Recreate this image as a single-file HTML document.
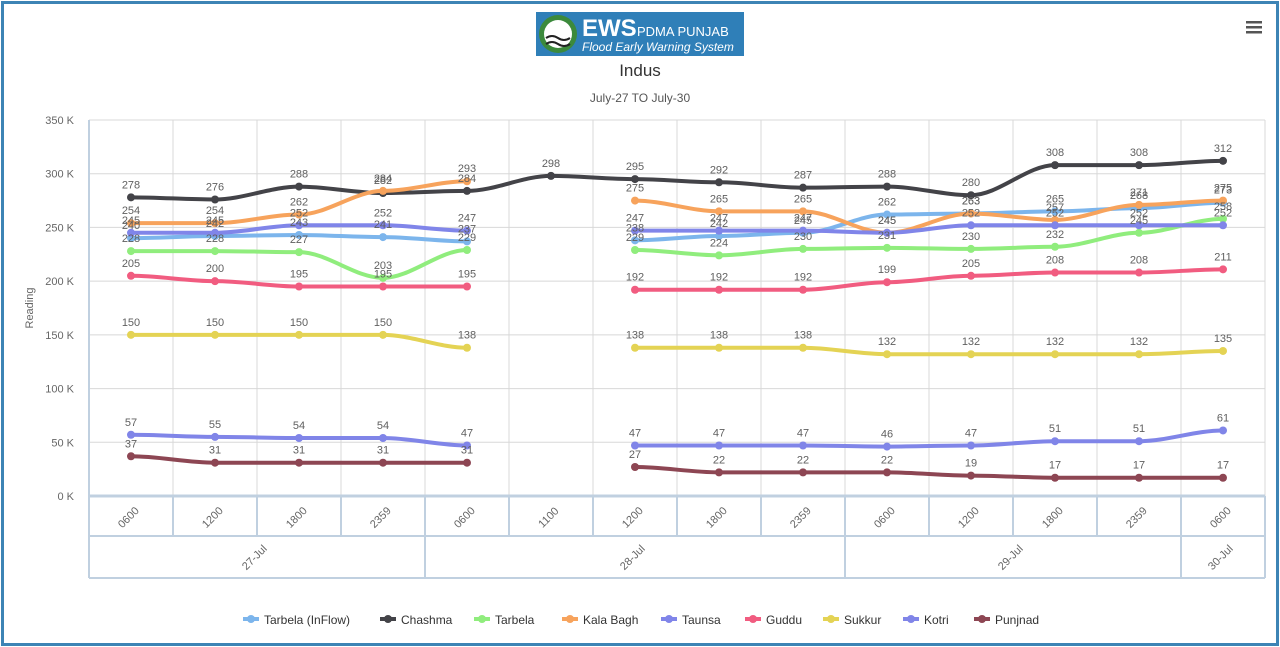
<!DOCTYPE html>
<html><head><meta charset="utf-8"><style>
html,body{margin:0;padding:0;background:#fff;}
body{width:1280px;height:647px;overflow:hidden;font-family:"Liberation Sans","DejaVu Sans",sans-serif;}
#frame{position:absolute;left:1px;top:1px;width:1272px;height:639px;border:3px solid #3d84b5;}
</style></head><body>
<div id="frame"></div>
<svg id="s" width="1280" height="647" style="position:absolute;left:0;top:0" xmlns="http://www.w3.org/2000/svg"></svg>
<script>
var s=document.getElementById('s');var h='';
function Y(v){return 496-v*376/350;}
function X(i){return 131+84*i;}
h+='<rect x="536" y="12" width="208" height="44" fill="#2f7fb8"/>';
h+='<circle cx="558" cy="34" r="19" fill="#3c8a3c"/><circle cx="558" cy="34" r="14" fill="#fff"/><path d="M546,38 q6,-4 12,0 q6,4 12,0 M546,44 q6,-4 12,0 q6,4 12,0" stroke="#222" stroke-width="2" fill="none"/>';
h+='<text x="582" y="36" font-size="24" font-weight="bold" fill="#fff">EWS</text><text x="637" y="36" font-size="13" fill="#fff">PDMA PUNJAB</text>';
h+='<text x="582" y="51" font-size="12" font-style="italic" fill="#fff">Flood Early Warning System</text>';
h+='<text x="640" y="76" font-size="17" text-anchor="middle" fill="#333">Indus</text>';
h+='<text x="640" y="102" font-size="12" text-anchor="middle" fill="#555">July-27 TO July-30</text>';
for(var k=0;k<3;k++)h+='<rect x="1246" y="'+(21+k*5)+'" width="16" height="2.5" fill="#555"/>';
for(var v=0;v<=350;v+=50){h+='<line x1="89" x2="1265" y1="'+Y(v)+'" y2="'+Y(v)+'" stroke="#d8d8d8"/>';
h+='<text x="74" y="'+(Y(v)+4)+'" font-size="11" fill="#666" text-anchor="end">'+v+' K</text>';}
for(var i=0;i<=14;i++){var x=89+84*i;h+='<line x1="'+x+'" x2="'+x+'" y1="120" y2="496" stroke="#d8d8d8"/>';}
h+='<line x1="89" x2="89" y1="120" y2="578" stroke="#c0d0e0" stroke-width="2"/>';
h+='<text x="33" y="308" font-size="11" fill="#666" text-anchor="middle" transform="rotate(-90 33 308)">Reading</text>';
h+='<line x1="89" x2="1265" y1="496" y2="496" stroke="#c0d0e0" stroke-width="3"/>';
h+='<line x1="89" x2="1265" y1="536" y2="536" stroke="#c0d0e0" stroke-width="2"/>';
h+='<line x1="89" x2="1265" y1="578" y2="578" stroke="#c0d0e0" stroke-width="2"/>';
var cats=['0600','1200','1800','2359','0600','1100','1200','1800','2359','0600','1200','1800','2359','0600'];
for(var i=0;i<=14;i++){var x=89+84*i;h+='<line x1="'+x+'" x2="'+x+'" y1="496" y2="536" stroke="#c0d0e0" stroke-width="2"/>';}
cats.forEach(function(c,i){var x=X(i),y=520;h+='<text x="'+x+'" y="'+y+'" font-size="11" fill="#666" text-anchor="middle" transform="rotate(-45 '+x+' '+y+')">'+c+'</text>';});
[[89,425,'27-Jul'],[425,845,'28-Jul'],[845,1181,'29-Jul'],[1181,1265,'30-Jul']].forEach(function(d){
h+='<line x1="'+d[1]+'" x2="'+d[1]+'" y1="536" y2="578" stroke="#c0d0e0" stroke-width="2"/>';
var x=(d[0]+d[1])/2,y=560;h+='<text x="'+x+'" y="'+y+'" font-size="11" fill="#666" text-anchor="middle" transform="rotate(-45 '+x+' '+y+')">'+d[2]+'</text>';});
var n=null;
var S=[
['Tarbela (InFlow)','#7cb5ec',[240,242,243,241,237,n,238,242,245,262,263,265,268,273]],
['Chashma','#434348',[278,276,288,282,284,298,295,292,287,288,280,308,308,312]],
['Tarbela','#90ed7d',[228,228,227,203,229,n,229,224,230,231,230,232,245,258]],
['Kala Bagh','#f7a35c',[254,254,262,284,293,n,275,265,265,245,263,257,271,275]],
['Taunsa','#8085e9',[245,245,252,252,247,n,247,247,247,245,252,252,252,252]],
['Guddu','#f15c80',[205,200,195,195,195,n,192,192,192,199,205,208,208,211]],
['Sukkur','#e4d354',[150,150,150,150,138,n,138,138,138,132,132,132,132,135]],
['Kotri','#8085e8',[57,55,54,54,47,n,47,47,47,46,47,51,51,61]],
['Punjnad','#8d4653',[37,31,31,31,31,n,27,22,22,22,19,17,17,17]]];
var labels='';
S.forEach(function(sr){var d=sr[2],segs=[],cur=[];
d.forEach(function(v,i){if(v===null){if(cur.length)segs.push(cur);cur=[];}else cur.push([X(i),Y(v)]);});
if(cur.length)segs.push(cur);
segs.forEach(function(p){var path='M'+p[0][0]+','+p[0][1];
for(var i=1;i<p.length;i++){var a=p[i-1],b=p[i],c1=a[0]+28,c2=b[0]-28;path+=' C'+c1+','+a[1]+' '+c2+','+b[1]+' '+b[0]+','+b[1];}
h+='<path d="'+path+'" stroke="'+sr[1]+'" stroke-width="4" fill="none" stroke-linecap="round"/>';
p.forEach(function(q){h+='<circle cx="'+q[0]+'" cy="'+q[1]+'" r="4" fill="'+sr[1]+'"/>';});});
d.forEach(function(v,i){if(v!==null)labels+='<text x="'+X(i)+'" y="'+(Y(v)-9)+'" font-size="11" fill="#606060" text-anchor="middle">'+v+'</text>';});});
h+=labels;
var lx=[243,380,474,562,661,745,823,903,974];
S.forEach(function(sr,i){h+='<rect x="'+lx[i]+'" y="617" width="16" height="4" fill="'+sr[1]+'"/><circle cx="'+(lx[i]+8)+'" cy="619" r="4" fill="'+sr[1]+'"/>';
h+='<text x="'+(lx[i]+21)+'" y="624" font-size="12" fill="#333">'+sr[0]+'</text>';});
s.innerHTML=h;
</script>
</body></html>
